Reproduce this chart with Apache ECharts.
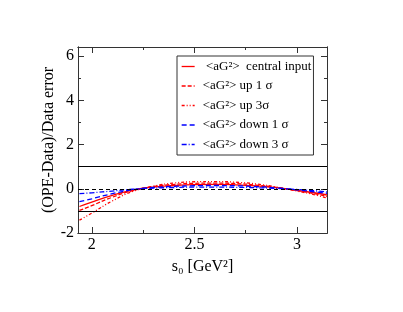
<!DOCTYPE html>
<html><head><meta charset="utf-8">
<script src="https://cdn.jsdelivr.net/npm/echarts@6/dist/echarts.min.js"></script>
<style>html,body{margin:0;padding:0;background:#fff}#c{width:403px;height:312px}</style>
</head><body><div id="c"></div>
<script>
const xs = [1.94, 2.0, 2.1, 2.2, 2.3, 2.4, 2.5, 2.6, 2.7, 2.8, 2.9, 3.0, 3.1, 3.146];
const yCentral = [-0.80, -0.60, -0.30, -0.06, 0.08, 0.15, 0.19, 0.20, 0.18, 0.13, 0.05, -0.07, -0.20, -0.28];
const yUp1 = [-0.98, -0.76, -0.38, -0.08, 0.10, 0.20, 0.25, 0.26, 0.24, 0.17, 0.06, -0.08, -0.25, -0.35];
const yUp3 = [-1.42, -1.10, -0.55, -0.12, 0.12, 0.26, 0.32, 0.33, 0.30, 0.22, 0.08, -0.10, -0.30, -0.42];
const yDown1 = [-0.58, -0.45, -0.22, -0.04, 0.06, 0.11, 0.14, 0.15, 0.14, 0.10, 0.04, -0.05, -0.15, -0.20];
const yDown3 = [-0.22, -0.18, -0.10, -0.02, 0.03, 0.06, 0.08, 0.08, 0.07, 0.05, 0.02, -0.03, -0.10, -0.14];
const names = ['central', 'up1', 'up3', 'down1', 'down3'];
const labels = [' <aG²>  central input', '<aG²> up 1 σ', '<aG²> up 3σ', '<aG²> down 1 σ', '<aG²> down 3 σ'];
const xMajor = [2, 2.5, 3];
const xMinor = [2.25, 2.75];
const yMajor = [-2, 0, 2, 4, 6];
const yMinor = [-1, 1, 3, 5];
const refSolid = [1, -1];
const refDashed = [0];

const font = 'Liberation Serif';
const XMIN = 1.933, XMAX = 3.146, YMIN = -2, YMAX = 6.42;
const axisCol = '#333';
function xAx(pos, ticks, len, showLabel) {
  return {type: 'value', position: pos, min: XMIN, max: XMAX,
    axisLine: {show: true, onZero: false, lineStyle: {color: axisCol, width: 1}},
    axisTick: {show: true, inside: true, length: len, customValues: ticks, lineStyle: {color: axisCol}},
    axisLabel: {show: showLabel, customValues: ticks, margin: 4, fontFamily: font, fontSize: 16, color: '#000'},
    splitLine: {show: false}};
}
function yAx(pos, ticks, len, showLabel) {
  return {type: 'value', position: pos, min: YMIN, max: YMAX,
    axisLine: {show: true, onZero: false, lineStyle: {color: axisCol, width: 1}},
    axisTick: {show: true, inside: true, length: len, customValues: ticks, lineStyle: {color: axisCol}},
    axisLabel: {show: showLabel, customValues: ticks, margin: 4, fontFamily: font, fontSize: 16, color: '#000'},
    splitLine: {show: false}};
}
const xAxes = [xAx('bottom', xMajor, 6, true), xAx('bottom', xMinor, 3, false), xAx('top', xMajor, 6, false), xAx('top', xMinor, 3, false)];
Object.assign(xAxes[0], {name: 's₀ [GeV²]', nameLocation: 'middle', nameGap: 26, nameMoveOverlap: false, nameTextStyle: {fontFamily: font, fontSize: 16, color: '#000'}});
const yAxes = [yAx('left', yMajor, 6, true), yAx('left', yMinor, 3, false), yAx('right', yMajor, 6, false), yAx('right', yMinor, 3, false)];
Object.assign(yAxes[0], {name: '(OPE-Data)/Data error', nameLocation: 'middle', nameGap: 21, nameMoveOverlap: false, nameTextStyle: {fontFamily: font, fontSize: 16, color: '#000'}});

const styles = [
  {color: '#ff0000', type: 'solid'},
  {color: '#ff0000', type: [4, 2]},
  {color: '#ff0000', type: [3, 2, 1, 2, 1, 2]},
  {color: '#0000ff', type: [5, 3]},
  {color: '#0000ff', type: [5, 2, 1, 2]}
];
const ysets = [yCentral, yUp1, yUp3, yDown1, yDown3];
const series = names.map((n, i) => ({
  name: n, type: 'line', smooth: true, symbol: 'none', z: 3,
  xAxisIndex: 0, yAxisIndex: 0,
  lineStyle: {color: styles[i].color, type: styles[i].type, width: 1.3},
  itemStyle: {color: styles[i].color},
  data: xs.map((x, j) => [x, ysets[i][j]])
}));
series.push({
  type: 'line', data: [], xAxisIndex: 0, yAxisIndex: 0, silent: true,
  markLine: {symbol: 'none', silent: true, label: {show: false}, animation: false,
    data: refSolid.map(v => ({yAxis: v, lineStyle: {color: '#000', type: 'solid', width: 1}}))
      .concat(refDashed.map(v => ({yAxis: v, lineStyle: {color: '#000', type: [4, 3], width: 1}})))}
});

const chart = echarts.init(document.getElementById('c'), null, {renderer: 'canvas'});
chart.setOption({
  animation: false,
  backgroundColor: '#fff',
  grid: {left: 78, right: 76, top: 47, bottom: 79, containLabel: false},
  xAxis: xAxes, yAxis: yAxes,
  legend: {
    data: names, orient: 'vertical', left: 177, top: 56,
    padding: [4, 2, 4, 4], itemGap: 6.5, itemWidth: 13, itemHeight: 14,
    borderColor: '#333', borderWidth: 1,
    itemStyle: {color: 'rgba(0,0,0,0)', borderColor: 'rgba(0,0,0,0)', borderWidth: 0},
    lineStyle: {width: 1.3},
    formatter: n => labels[names.indexOf(n)],
    textStyle: {fontFamily: font, fontSize: 13, color: '#000', padding: [0, 0, 0, 3]}
  },
  series: series
});
</script></body></html>
